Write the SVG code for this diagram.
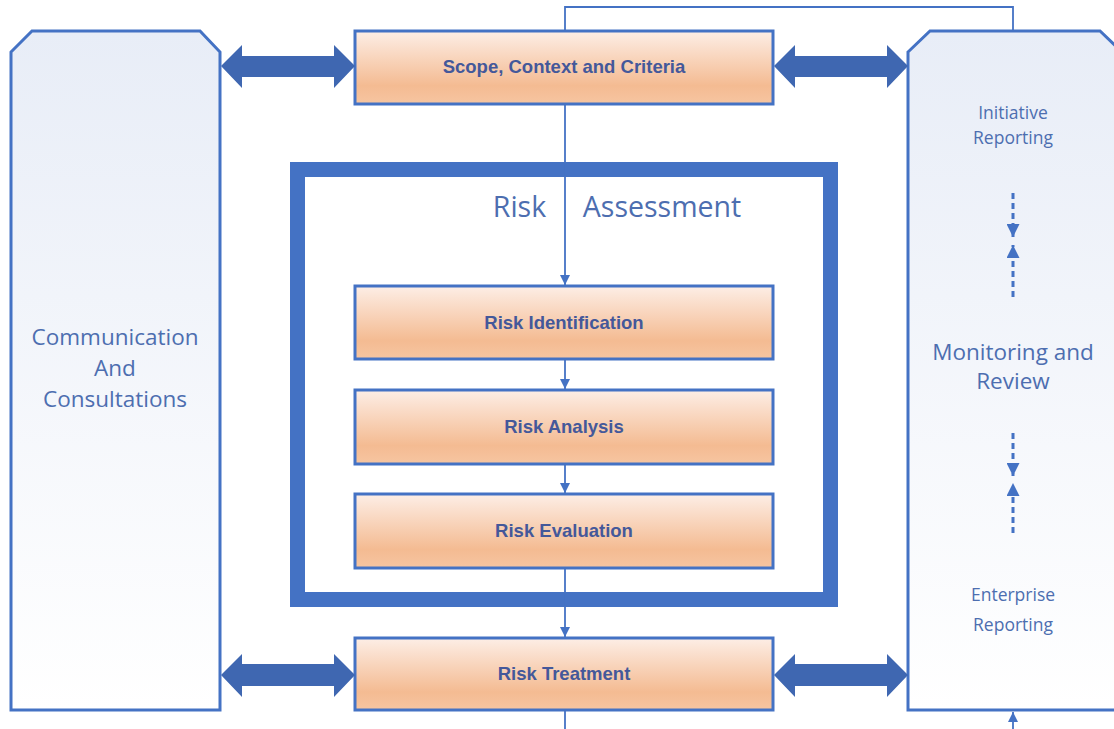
<svg xmlns="http://www.w3.org/2000/svg" width="1114" height="729" viewBox="0 0 1114 729">
<defs>
<linearGradient id="boxg" x1="0" y1="0" x2="0" y2="1">
<stop offset="0" stop-color="#fdeee6"/>
<stop offset="0.75" stop-color="#f4bb92"/>
<stop offset="1" stop-color="#f6c5a1"/>
</linearGradient>
<linearGradient id="panelg" x1="0" y1="0" x2="0" y2="1">
<stop offset="0" stop-color="#e8edf7"/>
<stop offset="1" stop-color="#ffffff"/>
</linearGradient>
<marker id="ah" viewBox="0 0 10 10" refX="10" refY="5" markerWidth="10" markerHeight="10" markerUnits="userSpaceOnUse" orient="auto">
<path d="M0,0 L10,5 L0,10 Z" fill="#4472c4"/>
</marker>
<marker id="ahd" viewBox="0 0 10 10" refX="10" refY="5" markerWidth="13" markerHeight="13" markerUnits="userSpaceOnUse" orient="auto">
<path d="M0,0 L10,5 L0,10 Z" fill="#4472c4"/>
</marker>
</defs>
<style>
.box{fill:url(#boxg);stroke:#4472c4;stroke-width:3}
.panel{fill:url(#panelg);stroke:#4472c4;stroke-width:3}
.bt{font-family:"Liberation Sans",Arial,sans-serif;font-weight:bold;font-size:18.5px;fill:#44589a;text-anchor:middle}
.pt{font-family:"Open Sans","Liberation Sans",sans-serif;fill:#4d6eb0;text-anchor:middle}
.con{stroke:#4472c4;stroke-width:1.8;fill:none}
.dash{stroke:#4472c4;stroke-width:3;stroke-dasharray:6,4;fill:none}
.dbl{fill:#3f67b1}
</style>
<g id="communication">
<path class="panel" d="M11,52 L32,31 L200,31 L220,52 L220,710 L11,710 Z"/>
<text class="pt" font-size="22.5" x="115" y="345">Communication</text>
<text class="pt" font-size="22.5" x="115" y="376">And</text>
<text class="pt" font-size="22.5" x="115" y="407">Consultations</text>
</g>
<g id="monitoring">
<path class="panel" d="M908,52 L930,31 L1100,31 L1122,52 L1122,710 L908,710 Z"/>
<text class="pt" font-size="17.5" x="1013" y="119">Initiative</text>
<text class="pt" font-size="17.5" x="1013" y="144">Reporting</text>
<text class="pt" font-size="22.5" x="1013" y="360">Monitoring and</text>
<text class="pt" font-size="22.5" x="1013" y="389">Review</text>
<text class="pt" font-size="17.5" x="1013" y="601">Enterprise</text>
<text class="pt" font-size="17.5" x="1013" y="631">Reporting</text>
</g>
<g id="risk-assessment">
<rect x="297.5" y="169.5" width="533" height="430" fill="none" stroke="#4472c4" stroke-width="15"/>
<text class="pt" font-size="28.5" x="519.5" y="217">Risk</text>
<text class="pt" font-size="28.5" x="662" y="217">Assessment</text>
</g>
<g id="scope">
<rect class="box" x="355" y="31" width="418" height="73"/>
<text class="bt" x="564" y="73">Scope, Context and Criteria</text>
</g>
<g id="identification">
<rect class="box" x="355" y="286" width="418" height="73"/>
<text class="bt" x="564" y="329">Risk Identification</text>
</g>
<g id="analysis">
<rect class="box" x="355" y="390" width="418" height="74"/>
<text class="bt" x="564" y="433">Risk Analysis</text>
</g>
<g id="evaluation">
<rect class="box" x="355" y="494" width="418" height="74"/>
<text class="bt" x="564" y="537">Risk Evaluation</text>
</g>
<g id="treatment">
<rect class="box" x="355" y="638" width="418" height="72"/>
<text class="bt" x="564" y="680">Risk Treatment</text>
</g>
<g id="connectors">
<line class="con" x1="565" y1="104" x2="565" y2="285" marker-end="url(#ah)"/>
<line class="con" x1="565" y1="359" x2="565" y2="389" marker-end="url(#ah)"/>
<line class="con" x1="565" y1="464" x2="565" y2="493" marker-end="url(#ah)"/>
<line class="con" x1="565" y1="568" x2="565" y2="637" marker-end="url(#ah)"/>
<line class="con" x1="565" y1="710" x2="565" y2="729"/>
<polyline class="con" points="565,30 565,7 1013,7 1013,30"/>
<line class="con" x1="1013" y1="729" x2="1013" y2="712" marker-end="url(#ah)"/>
<path class="dbl" d="M221,66 L242,45 L242,56 L334,56 L334,45 L355,66 L334,88 L334,77 L242,77 L242,88 Z"/>
<path class="dbl" d="M774,66 L795,45 L795,56 L887,56 L887,45 L908,66 L887,88 L887,77 L795,77 L795,88 Z"/>
<path class="dbl" d="M221,675 L242,654 L242,664 L334,664 L334,654 L355,675 L334,697 L334,686 L242,686 L242,697 Z"/>
<path class="dbl" d="M774,675 L795,654 L795,664 L887,664 L887,654 L908,675 L887,697 L887,686 L795,686 L795,697 Z"/>
<line class="dash" x1="1013" y1="193" x2="1013" y2="237" marker-end="url(#ahd)"/>
<line class="dash" x1="1013" y1="297" x2="1013" y2="245" marker-end="url(#ahd)"/>
<line class="dash" x1="1013" y1="433" x2="1013" y2="476" marker-end="url(#ahd)"/>
<line class="dash" x1="1013" y1="533" x2="1013" y2="483" marker-end="url(#ahd)"/>
</g>
</svg>
